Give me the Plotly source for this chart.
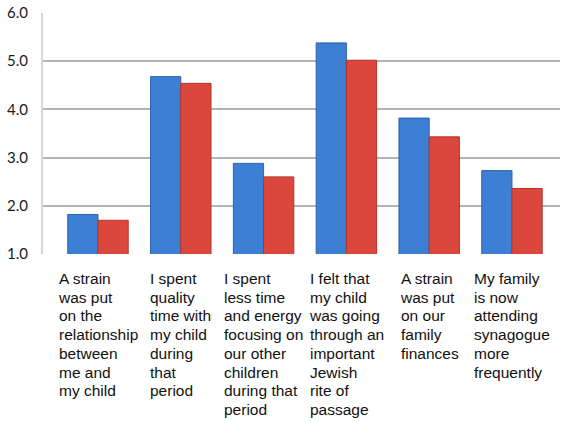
import plotly.graph_objects as go

categories = [
    "A strain<br>was put<br>on the<br>relationship<br>between<br>me and<br>my child",
    "I spent<br>quality<br>time with<br>my child<br>during<br>that<br>period",
    "I spent<br>less time<br>and energy<br>focusing on<br>our other<br>children<br>during that<br>period",
    "I felt that<br>my child<br>was going<br>through an<br>important<br>Jewish<br>rite of<br>passage",
    "A strain<br>was put<br>on our<br>family<br>finances",
    "My family<br>is now<br>attending<br>synagogue<br>more<br>frequently",
]
series_blue = [1.82, 4.68, 2.88, 5.38, 3.82, 2.73]
series_red = [1.70, 4.54, 2.60, 5.02, 3.43, 2.36]
y_ticks = [1, 2, 3, 4, 5, 6]
y_tick_labels = ["1.0", "2.0", "3.0", "4.0", "5.0", "6.0"]

x_idx = list(range(len(categories)))

fig = go.Figure()
fig.add_trace(go.Bar(x=x_idx, y=series_blue, marker=dict(color="#3d7fd4", line=dict(color="#2c63aa", width=1))))
fig.add_trace(go.Bar(x=x_idx, y=series_red, marker=dict(color="#db473c", line=dict(color="#b0352c", width=1))))

for i, cat in enumerate(categories):
    lines = cat.split("<br>")
    txt = "<br>".join(f'<span style="font-size:15.5px">{l}</span>' for l in lines)
    fig.add_annotation(
        x=i, y=0, xref="x", yref="paper",
        text=txt, showarrow=False,
        xanchor="center", yanchor="top", align="left",
        yshift=-14,
        font=dict(family="Liberation Sans, Arial, sans-serif", size=14.4, color="#111111"),
    )

fig.update_layout(
    width=561, height=422,
    margin=dict(l=43, r=1, t=13, b=168, autoexpand=False),
    paper_bgcolor="white", plot_bgcolor="white",
    showlegend=False,
    barmode="group", bargap=0.27, bargroupgap=0,
    xaxis=dict(range=[-0.664, 5.58], showticklabels=False, showgrid=False, zeroline=False,
               showline=False, ticks="", automargin=False),
    yaxis=dict(range=[1, 6], tickvals=y_ticks, ticktext=y_tick_labels,
               showgrid=True, gridcolor="#b3b3b3", gridwidth=2, zeroline=False,
               showline=True, linecolor="#d6d6d6", linewidth=2, ticks="",
               tickfont=dict(family="Lato, Open Sans, sans-serif", size=15, color="#1a1a1a"),
               ticklabelstandoff=10, ticklabeloverflow="allow", automargin=False),
)

# remove the browser's default 8px page margin so the figure fills the window
fig.write_html(
    "out.html",
    config={"displayModeBar": False},
    post_script="document.body.style.margin='0';document.body.style.overflow='hidden';",
)
